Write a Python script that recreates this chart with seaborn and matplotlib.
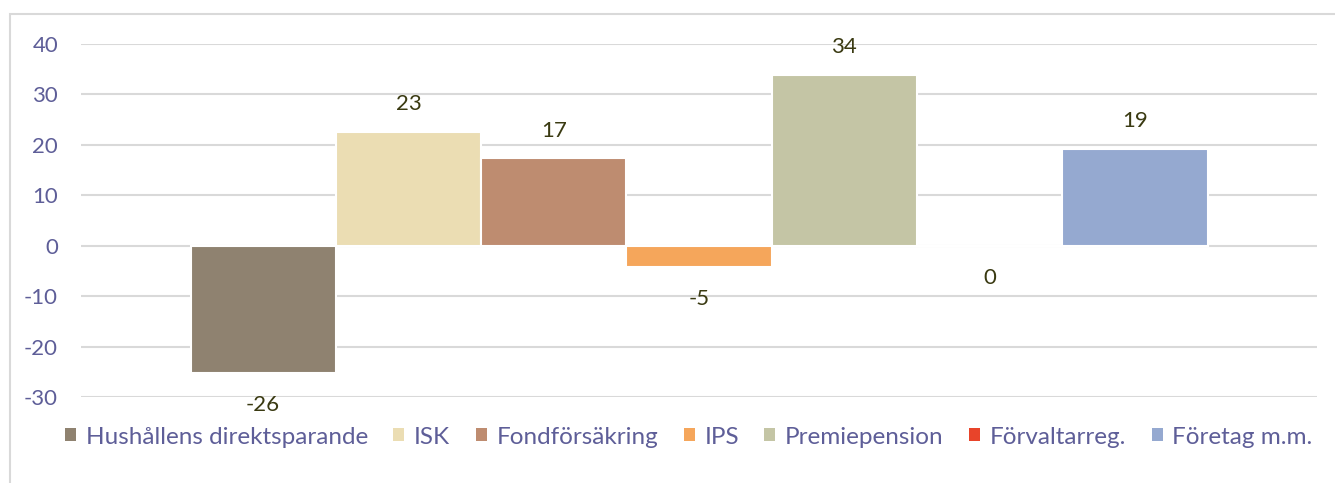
import matplotlib
matplotlib.use("Agg")
import matplotlib.pyplot as plt
import matplotlib.patches as mpatches
import seaborn as sns
import pandas as pd

series = ["Hushållens direktsparande", "ISK", "Fondförsäkring", "IPS",
          "Premiepension", "Förvaltarreg.", "Företag m.m."]
values = [-25.3, 22.6, 17.3, -4.3, 33.9, 0.0, 19.2]
value_labels = ["-26", "23", "17", "-5", "34", "0", "19"]
colors = ["#8F8270", "#EBDDB3", "#BE8C70", "#F5A65B", "#C4C5A5", "#E8442A", "#95A9D0"]
yticks = [-30, -20, -10, 0, 10, 20, 30, 40]

df = pd.DataFrame({"cat": ["x"] * len(series), "serie": series, "value": values})

sns.set_style("white")
plt.rcParams["font.family"] = ["Lato", "DejaVu Sans"]

fig = plt.figure(figsize=(13.35, 4.83), dpi=100)
ax = fig.add_axes([81 / 1335, 1 - 397 / 483, (1317 - 81) / 1335, (397 - 44) / 483])

sns.barplot(data=df, x="cat", y="value", hue="serie", hue_order=series,
            palette=colors, width=1017 / 1236, ax=ax, legend=False,
            edgecolor="white", linewidth=1.5, saturation=1, zorder=3)

ax.set_xlim(-0.5, 0.5)
ax.set_ylim(-30, 40)
ax.set_yticks(yticks)
ax.set_yticklabels([str(t) for t in yticks])
ax.set_xticks([])
ax.set_xlabel("")
ax.set_ylabel("")
for s in ax.spines.values():
    s.set_visible(False)
ax.yaxis.grid(True, color="#D9D9D9", linewidth=1.5, zorder=0)
ax.set_axisbelow(True)
ax.tick_params(axis="y", length=0, pad=16.5, labelsize=16, labelcolor="#5E5E98")
for lbl in ax.get_yticklabels():
    lbl.set_horizontalalignment("right")

# data labels
for patch, v, lab in zip(ax.patches, values, value_labels):
    xc = patch.get_x() + patch.get_width() / 2
    off = 20 if v > 0 else -23
    ax.annotate(lab, (xc, v), xytext=(0, off), textcoords="offset points",
                ha="center", va="center", fontsize=16, color="#3A3A12")

handles = [mpatches.Patch(facecolor=c, edgecolor="none") for c in colors]
fig.legend(handles, series, loc="center", bbox_to_anchor=(0.516, 1 - 437 / 483),
           ncol=7, frameon=False, fontsize=17.5, handlelength=0.45, handleheight=0.45,
           handletextpad=0.4, columnspacing=1.05, labelcolor="#5E5E98",
           borderpad=0.2, borderaxespad=0)

# outer chart frame
frame = mpatches.Rectangle((10 / 1335, -0.2), 1.2, 0.2 + 1 - 14 / 483,
                           transform=fig.transFigure, fill=False,
                           edgecolor="#D9D9D9", linewidth=1.5)
fig.patches.append(frame)

fig.savefig("out.png", dpi=100)
